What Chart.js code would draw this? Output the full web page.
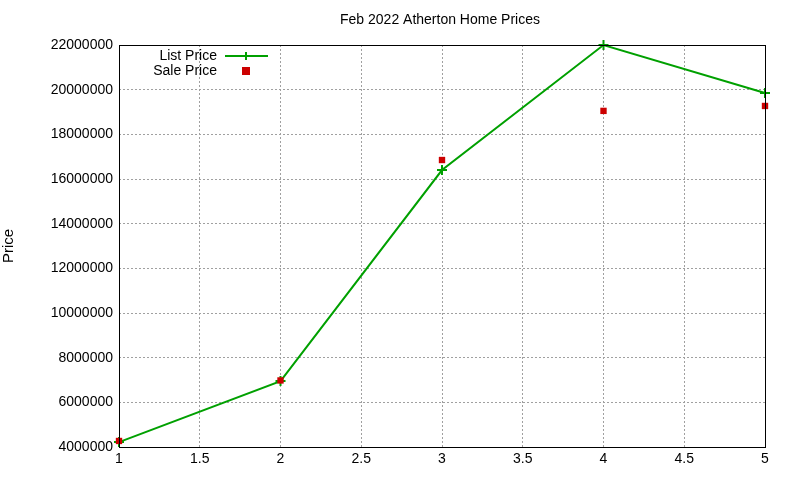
<!DOCTYPE html>
<html><head><meta charset="utf-8">
<script src="https://cdn.jsdelivr.net/npm/chart.js@4/dist/chart.umd.min.js"></script>
<style>html,body{margin:0;padding:0;background:#fff}#w{width:800px;height:480px}</style>
</head><body><div id="w"><canvas id="c"></canvas></div>
<script>
const xValues = [1, 2, 3, 4, 5];
const listPrice = [4220000, 6950000, 16400000, 22000000, 19850000];
const salePrice = [4270000, 6980000, 16850000, 19050000, 19270000];
const titleText = 'Feb 2022 Atherton Home Prices';
const seriesNames = ['List Price', 'Sale Price'];
const GREEN = '#00a000', RED = '#cc0000';
const FONT = 'Liberation Sans, Arial, sans-serif';

const pts = a => xValues.map((x, i) => ({x, y: a[i]}));

const gnuPlugin = {
  id: 'gnu',
  afterDraw(chart) {
    const {ctx, chartArea: a} = chart;
    ctx.save();
    ctx.strokeStyle = '#000'; ctx.lineWidth = 1;
    ctx.strokeRect(a.left + 0.5, a.top + 0.5, a.right - a.left, a.bottom - a.top);
    ctx.fillStyle = '#000';
    ctx.font = '14px ' + FONT;
    ctx.textAlign = 'center'; ctx.textBaseline = 'middle';
    ctx.fillText(titleText, 440, 20);
    ctx.textAlign = 'right';
    ctx.fillText(seriesNames[0], 217, 56);
    ctx.fillText(seriesNames[1], 217, 71);
    ctx.strokeStyle = GREEN; ctx.lineWidth = 2;
    ctx.beginPath(); ctx.moveTo(225, 56); ctx.lineTo(268, 56); ctx.stroke();
    ctx.beginPath(); ctx.moveTo(246, 52); ctx.lineTo(246, 60); ctx.moveTo(242, 56); ctx.lineTo(250, 56); ctx.stroke();
    ctx.fillStyle = RED; ctx.fillRect(242, 67, 8, 8);
    ctx.restore();
  }
};

new Chart(document.getElementById('c'), {
  type: 'scatter',
  data: { datasets: [
    { label: seriesNames[0], data: pts(listPrice), showLine: true, borderColor: GREEN, backgroundColor: GREEN,
      borderWidth: 2, pointStyle: 'cross', pointRadius: 5, pointBorderWidth: 2, order: 2, clip: false },
    { label: seriesNames[1], data: pts(salePrice), showLine: false, borderColor: RED, backgroundColor: RED,
      pointStyle: 'rect', pointRadius: 4.5, pointBorderWidth: 0, order: 1, clip: false }
  ]},
  plugins: [gnuPlugin],
  options: {
    responsive: true, maintainAspectRatio: false, animation: false,
    layout: { padding: { top: 45, right: 35, left: 0, bottom: 0 } },
    plugins: { legend: { display: false }, tooltip: { enabled: false } },
    scales: {
      x: { type: 'linear', min: 1, max: 5,
        ticks: { stepSize: 0.5, color: '#000', font: { size: 14, family: FONT }, padding: 4,
          callback: v => String(v) },
        grid: { color: '#a0a0a0', lineWidth: 1, tickLength: 0, drawTicks: false },
        border: { display: false, dash: [2, 2] },
        afterFit(s) { s.height = 33; } },
      y: { min: 4000000, max: 22000000,
        ticks: { stepSize: 2000000, color: '#000', font: { size: 14, family: FONT }, padding: 6,
          callback: v => String(v) },
        grid: { color: '#a0a0a0', lineWidth: 1, drawTicks: false },
        border: { display: false, dash: [2, 2] },
        title: { display: true, text: 'Price', color: '#000', font: { size: 15, family: FONT }, padding: 0 },
        afterFit(s) { s.width = 119; } }
    }
  }
});
</script></body></html>
